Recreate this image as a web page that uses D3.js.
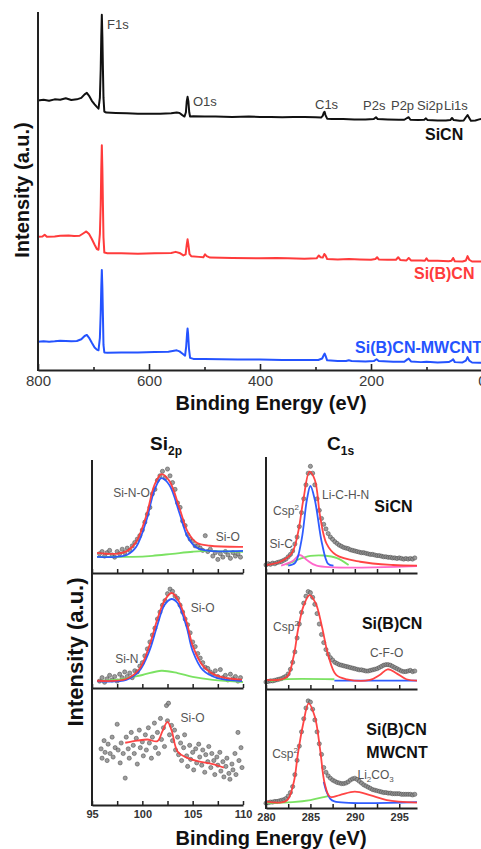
<!DOCTYPE html>
<html>
<head>
<meta charset="utf-8">
<script src="https://cdn.jsdelivr.net/npm/d3@7"></script>
<style>
body { margin: 0; background: #fff; }
svg { display: block; font-family: Arial, "Liberation Sans", sans-serif; }
</style>
</head>
<body>
<svg id="viz" width="481" height="849"></svg>
<script>
// survey spectra, [binding energy, intensity]
var surveySiCN = [[800,75.3],[790,75.5],[780,75.2],[770,75.6],[760,75.5],[750,75.9],[740,75.4],[730,75.6],[722,76.0],[716,77.0],[712,77.4],[708,76.6],[703,75.2],[698,74.2],[694,73.5],[691,73.0],[688.5,76],[687,84],[686,93],[685,99.2],[684,93],[683,84],[682,76],[680.5,72.2],[677,71.9],[660,71.8],[640,71.7],[620,71.6],[600,71.6],[580,71.6],[560,71.7],[550,71.9],[545,71.8],[540,71.2],[536,70.8],[533.5,72],[532,75],[530.5,76.3],[529,75],[527.5,72],[526,70.8],[520,70.9],[500,70.8],[480,70.8],[450,70.7],[420,70.8],[400,70.7],[380,70.7],[360,70.6],[340,70.7],[320,70.7],[300,70.6],[290,70.5],[287,71],[285,71.9],[283.5,72.1],[282,71.2],[279,70.2],[270,70.1],[250,70.1],[230,70.0],[210,70.0],[195,70.1],[191,70.6],[188,70.1],[170,70.0],[150,69.9],[140,69.9],[135,70.4],[132,70.6],[129,69.9],[115,69.8],[104,69.9],[101,70.3],[98,69.8],[80,69.7],[65,69.7],[57,69.8],[54,70.4],[51,69.8],[40,69.6],[33,69.7],[29,70.6],[26,71.2],[23,70.4],[20,69.6],[12,69.7],[5,70.0],[0,70.2]];
var surveySiBCN = [[800,37.2],[792,37.3],[788,37.8],[784,37.2],[770,37.3],[760,37.5],[745,37.6],[735,37.4],[725,37.5],[718,38.2],[713,38.7],[708,38.0],[703,36.6],[698,35.0],[694,33.8],[691,33.6],[688.5,38],[687,46],[686,56],[685,62.8],[684,56],[683,46],[682,37],[680.5,32.8],[675,32.6],[650,32.6],[620,32.5],[590,32.6],[560,32.7],[552,33.0],[545,32.7],[538,32.0],[534,32.3],[532,35],[530.5,36.5],[529,35],[527,32.4],[524,31.8],[510,31.6],[502,31.5],[499,32.3],[496,31.8],[490,31.4],[450,31.3],[400,31.2],[370,31.3],[350,31.2],[320,31.1],[298,31.2],[294,32.0],[291,31.5],[287,31.4],[284,32.4],[282,32.0],[279,31.0],[260,30.9],[240,31.0],[220,30.9],[200,30.8],[192,31.0],[189,31.5],[186,30.9],[170,30.8],[155,30.8],[151,31.5],[147,30.7],[136,30.6],[132,31.3],[128,30.6],[110,30.6],[103,30.5],[100,31.2],[97,30.5],[80,30.5],[60,30.4],[55,30.5],[52,31.3],[49,30.4],[35,30.3],[29,30.6],[26,31.8],[23,30.8],[18,30.3],[5,30.3],[0,30.3]];
var surveyMWCNT = [[800,7.9],[790,8.0],[780,7.9],[770,8.0],[760,8.2],[750,8.1],[740,8.0],[730,8.1],[722,8.6],[716,9.5],[712,9.8],[708,9.0],[703,7.6],[698,6.3],[694,5.7],[691,5.5],[688.5,9],[687,16],[686,23],[685,27.9],[684,23],[683,15],[682,7],[680.5,4.9],[675,4.8],[650,4.9],[620,4.9],[590,5.0],[565,5.1],[555,5.4],[550,5.5],[545,5.2],[540,4.6],[535,4.0],[533,6.5],[531.5,10],[530.5,11.6],[529.5,10],[528,6],[526,3.4],[520,3.1],[500,3.1],[470,3.0],[440,2.9],[400,2.9],[360,2.8],[320,2.8],[295,2.8],[288,3.2],[285,4.2],[283.5,4.6],[282,4.0],[279,2.7],[260,2.5],[245,2.5],[240,2.7],[235,2.5],[210,2.4],[195,2.5],[190,3.0],[186,2.5],[160,2.3],[140,2.3],[135,2.9],[132,3.2],[128,2.4],[110,2.2],[100,2.3],[80,2.1],[60,2.2],[55,2.6],[52,3.0],[49,2.2],[35,2.1],[29,2.6],[26,3.6],[23,2.6],[18,2.1],[5,2.0],[0,2.0]];
var surveyTicks = [800, 600, 400, 200, 0];

// Si 2p, measured points on a 0.25 eV grid from 95.75 eV
var si2pSiCNPts = [17,19,15,18,20,16,14,19,17,21,18,22,20,24,27,30,33,38,45,52,58,70,74,82,86,90,84,92,86,80,74,62,58,46,42,34,30,28,24,24,22,20,33,19,21,15,18,12,17,14,19,16,13,18,15,17,14];
var si2pSiBCNPts = [6,9,5,8,11,7,10,6,12,9,14,10,13,9,15,14,19,22,28,34,40,46,52,60,66,72,76,82,86,84,80,78,72,66,60,55,48,40,36,30,26,22,18,17,14,12,15,10,16,9,11,7,12,8,10,6,9];
var si2pMWCNTPts = [[95.9,48],[96.0,40],[96.2,55],[96.3,45],[96.5,38],[96.6,52],[96.8,44],[97.0,58],[97.1,41],[97.3,49],[97.5,69],[97.6,47],[97.8,36],[97.9,53],[98.1,44],[98.3,23],[98.4,58],[98.6,48],[98.7,40],[98.9,62],[99.1,51],[99.2,44],[99.4,57],[99.5,35],[99.7,64],[99.8,49],[100.0,54],[100.1,42],[100.3,60],[100.4,47],[100.6,66],[100.7,53],[100.9,40],[101.0,58],[101.2,70],[101.3,49],[101.5,62],[101.6,44],[101.8,74],[101.9,56],[102.1,66],[102.2,50],[102.4,85],[102.5,72],[102.6,87],[102.7,60],[102.9,68],[103.0,55],[103.2,64],[103.3,47],[103.5,58],[103.6,43],[103.8,53],[103.9,38],[104.1,49],[104.2,60],[104.4,42],[104.5,33],[104.7,51],[104.8,39],[105.0,45],[105.1,30],[105.3,48],[105.4,36],[105.6,52],[105.7,41],[105.9,34],[106.0,47],[106.2,28],[106.3,43],[106.5,37],[106.6,50],[106.8,32],[106.9,44],[107.1,38],[107.2,26],[107.4,41],[107.5,34],[107.7,45],[107.8,29],[108.0,37],[108.1,24],[108.3,33],[108.4,40],[108.6,27],[108.7,22],[108.9,35],[109.0,30],[109.2,44],[109.3,26],[109.5,62],[109.6,38],[109.8,49],[109.9,32]];

// Si 2p fitted curves
var si2pSiCNEnv = [[95.5,17.9],[97.4,17],[98.5,19.6],[99.4,27.7],[100.4,50.9],[101.2,77.7],[101.9,87.5],[102.7,81.3],[103.7,57.1],[104.5,36.6],[105.4,26.8],[106.7,24.1],[110,23.2]];
var si2pSiCNSiNO = [[95.5,14.3],[97.4,14.3],[98.5,16.1],[99.4,23.2],[100.4,46.4],[101.2,73.2],[101.9,83.9],[102.7,77.7],[103.7,52.7],[104.5,32.1],[105.4,22.3],[106.7,19.6],[110,19.6]];
var si2pSiCNSiO = [[95.5,14.3],[99,14.3],[101,15.2],[103,17],[105,18.8],[106.5,19.6],[108,19.2],[110,18.8]];
var si2pSiBCNEnv = [[95.5,6.3],[98.4,7.8],[99.7,16.5],[100.7,36.8],[101.5,60],[102.2,75.9],[102.9,82.6],[103.5,77.4],[104.4,57.4],[105,36.8],[106,19.4],[107.4,10.7],[109.9,7.2]];
var si2pSiBCNSiO = [[95.5,6.1],[98.4,7],[99.7,14.8],[100.7,32.2],[101.5,54.8],[102.2,72.2],[102.9,77.4],[103.5,73.9],[104.4,53],[105,32.2],[106,15.7],[107.4,8.7],[109.9,6.1]];
var si2pSiBCNSiN = [[95.5,6.1],[98,7.8],[100,11.3],[101.9,15],[103.5,13],[105,9.6],[107,7],[110,5.2]];
var si2pMWCNTEnv = [[98.3,53.2],[99.5,55],[100.5,56],[101.5,54.6],[102,63.2],[102.5,71],[102.9,64],[103.5,45.7],[104.4,40.5],[105.5,37.5],[107,35],[108.1,32]];

// C 1s, measured points on a 0.25 eV grid from 280 eV
var c1sSiCNPts = [7,8,7.5,8.5,8,9,9.5,10,11,12,14,16,19,25,31,40,52,64,76,86,92,86,76,64,54,47,42,38,34,31,29,27,25.5,24,23,22,21.5,21,20,19.5,19,18.5,18,17.5,17.5,17,16.5,16,16,15.5,15,15,14.5,14,14,13.5,13.5,13,13,12.5,13,12.5,12,12.5,12,12.5,12,13];
var c1sSiBCNPts = [6,6.5,7,7,7.5,8,8.5,9,10,11,13,17,23,32,44,56,66,74,80,84,83,79,73,65,56,47,40,34,30,27,25,23,22,21,20.5,20,19.5,19,18.5,18,17.5,17,16.5,16.5,16,15.5,15.5,16,16.5,17,17.5,18.5,19.5,20.5,21,21,20.5,19.5,18.5,17.5,16.5,15.5,15,15,15.5,16,15,15.5];
var c1sMWCNTPts = [4,4.5,5,5,5.5,5.5,6,6.5,7,8,10,13,18,28,40,52,64,75,84,90,89,83,74,64,54,45,34,30,27,25,23.5,22.5,21.5,21,20.5,20.5,21,22,23.5,24.5,25,24,22.5,21,19.5,18.5,17.5,16.5,15.5,15,14.5,14,13.5,13,13,12.5,12.5,12,12,12,12,11.5,11.5,11.5,11.5,11.5,11,11.5];

// C 1s fitted curves
var c1sSiCNEnv = [[280,6.9],[281.6,9.7],[282.9,17],[283.6,34.5],[284.2,62.9],[284.9,87.3],[285.5,80.2],[286.1,48.5],[286.8,25.6],[287.9,15.5],[290.6,9.7],[294.3,6.9],[297,6.3]];
var c1sSiCNLiCHN = [[282.5,6.3],[283.3,9],[284,28.4],[284.6,62.9],[285,75],[285.5,62.9],[286.3,25.6],[287,7.8],[287.6,6.3]];
var c1sSiCNSiC = [[281.7,6.3],[283,10.3],[283.8,15.5],[284.6,11.2],[285.7,6.3],[297,6.0]];
var c1sSiCNCsp2 = [[282.3,6.9],[283.5,11.2],[285,14.7],[286.5,15.1],[288,12.9],[289.3,6.9]];
var c1sSiBCNEnv = [[280,7.8],[282.3,10.1],[283.1,27.8],[283.6,50.9],[284.2,71],[284.9,81],[285.6,73.9],[286.3,53.7],[287,29.3],[287.9,12.1],[289.1,8.4],[291.7,7.8],[292.8,12.1],[293.7,17],[294.7,13.5],[295.8,8.4],[297,7.2]];
var c1sSiBCNBase = [[280.5,6.9],[282,8.4],[287.7,8.4]];
var c1sSiBCNCFO = [[287.7,7.2],[297,7.2]];
var c1sMWCNTEnv = [[280,5.3],[282.3,6.1],[283.1,20.8],[283.6,46],[284.2,71.2],[284.8,88],[285.5,76.7],[286.1,48.7],[286.6,20.8],[287.2,9.5],[288.3,10.9],[290,13.7],[291.7,10.9],[293.6,6.7],[297,4.5]];
var c1sMWCNTLi = [[286.5,22],[286.8,14],[287.2,8],[287.7,5.5],[297,5]];
var c1sMWCNTBase = [[280.2,4.2],[283,5],[285,6.7],[286.5,9.2],[287,10]];

var siTicks = [95, 100, 105, 110];
var cTicks = [280, 285, 290, 295];

var RED = '#ff3b3b', BLUE = '#2453ff', GREEN = '#74e05a', PINK = '#ff5fc8';

var svg = d3.select('svg#viz');

function grid(x0, dx, vals) {
    return vals.map(function(v, i) { return [x0 + i * dx, v]; });
}

// ---------- survey ----------
var xTop = d3.scaleLinear().domain([800, 0]).range([38, 482]);
var yTop = d3.scaleLinear().domain([0, 100]).range([370, 12]);
var surveyLine = d3.line().x(function(d) { return xTop(d[0]); }).y(function(d) { return yTop(d[1]); });

[[surveySiCN, '#111'], [surveySiBCN, RED], [surveyMWCNT, BLUE]].forEach(function(s) {
    svg.append('path').datum(s[0])
        .attr('d', surveyLine)
        .attr('fill', 'none')
        .attr('stroke', s[1])
        .attr('stroke-width', 2)
        .attr('stroke-linejoin', 'round');
});

var topAxis = svg.append('g').attr('transform', 'translate(0,370)')
    .call(d3.axisBottom(xTop).tickValues(d3.range(0, 801, 100)).tickSizeInner(-6).tickSizeOuter(0).tickPadding(5)
        .tickFormat(function(d) { return surveyTicks.indexOf(d) >= 0 ? d : ''; }));
topAxis.select('.domain').attr('stroke', '#222').attr('stroke-width', 2);
topAxis.selectAll('.tick line').attr('stroke', '#222').attr('stroke-width', 1.6)
    .attr('y2', function(d) { return surveyTicks.indexOf(d) >= 0 ? -6 : -3; });
topAxis.selectAll('.tick text').attr('font-size', 15).attr('fill', '#3a3a3a')
    .attr('font-family', 'Arial, "Liberation Sans", sans-serif');
svg.append('line').attr('x1', 38).attr('x2', 38).attr('y1', 12).attr('y2', 371)
    .attr('stroke', '#222').attr('stroke-width', 2);

var peakLabels = [['F1s', 675.7, 95.3], ['O1s', 520.7, 73.7], ['C1s', 300.9, 72.9], ['P2s', 214.4, 72.6],
    ['P2p', 164, 72.6], ['Si2p', 117.1, 72.6], ['Li1s', 68.5, 72.6]];
svg.selectAll('text.peak').data(peakLabels).enter().append('text')
    .attr('class', 'peak')
    .attr('x', function(d) { return xTop(d[1]); })
    .attr('y', function(d) { return yTop(d[2]); })
    .attr('font-size', 13).attr('fill', '#444')
    .text(function(d) { return d[0]; });

[['SiCN', 102.7, 64.2, '#111'], ['Si(B)CN', 122.5, 25.4, RED], ['Si(B)CN-MWCNT', 228.8, 4.7, BLUE]].forEach(function(d) {
    svg.append('text').attr('x', xTop(d[1])).attr('y', yTop(d[2]))
        .attr('font-size', 16).attr('font-weight', 'bold').attr('fill', d[3]).text(d[0]);
});

svg.append('text').attr('x', 271).attr('y', 410).attr('text-anchor', 'middle')
    .attr('font-size', 20).attr('font-weight', 'bold').attr('fill', '#111').text('Binding Energy (eV)');
svg.append('text').attr('transform', 'translate(29,190) rotate(-90)').attr('text-anchor', 'middle')
    .attr('font-size', 20).attr('font-weight', 'bold').attr('fill', '#111').text('Intensity (a.u.)');

// ---------- core level panels ----------
var xSi = d3.scaleLinear().domain([95, 110]).range([92, 243]);
var xC = d3.scaleLinear().domain([280, 297]).range([266, 417]);

function panel(x, rng, pts, fits, labels, tickLabels) {
    var y = d3.scaleLinear().domain([0, 100]).range(rng);
    var g = svg.append('g');
    g.selectAll('circle').data(pts).enter().append('circle')
        .attr('cx', function(d) { return x(d[0]); })
        .attr('cy', function(d) { return y(d[1]); })
        .attr('r', 2.1)
        .attr('fill', '#8c8c8c')
        .attr('fill-opacity', 0.85)
        .attr('stroke', '#444')
        .attr('stroke-width', 0.5);
    var line = d3.line().curve(d3.curveCatmullRom.alpha(0.5))
        .x(function(d) { return x(d[0]); }).y(function(d) { return y(d[1]); });
    fits.forEach(function(f) {
        g.append('path').datum(f[0]).attr('d', line)
            .attr('fill', 'none').attr('stroke', f[1]).attr('stroke-width', 1.8).attr('stroke-opacity', 0.95);
    });
    labels.forEach(function(l) {
        var t = g.append('text').attr('x', x(l[1])).attr('y', y(l[2]))
            .attr('font-size', l[3] ? 16 : 12).attr('font-weight', l[3] ? 'bold' : 'normal')
            .attr('fill', l[3] ? '#111' : '#555');
        l[0].forEach(function(p) {
            var ts = t.append('tspan').text(p[0]);
            if (p[1] === 'sup') ts.attr('font-size', 8).attr('dy', -5);
            if (p[1] === 'sub') ts.attr('font-size', 8).attr('dy', 3);
            if (p[1] === 'base') ts.attr('dy', p[2]);
        });
    });
    var ticks = d3.range(x.domain()[0], x.domain()[1] + 0.01, 2.5);
    var ax = g.append('g').attr('transform', 'translate(0,' + rng[0] + ')')
        .call(d3.axisBottom(x).tickValues(ticks).tickSizeInner(-4).tickSizeOuter(0).tickPadding(5)
            .tickFormat(function(d) { return tickLabels && tickLabels.indexOf(d) >= 0 ? d : ''; }));
    ax.select('.domain').attr('stroke', '#222').attr('stroke-width', 2);
    ax.selectAll('.tick line').attr('stroke', '#222').attr('stroke-width', 1.5);
    ax.selectAll('.tick text').attr('font-size', 11).attr('font-weight', 'bold').attr('fill', '#333')
        .attr('font-family', 'Arial, "Liberation Sans", sans-serif');
}

var csp = [['Csp'], ['2', 'sup']];

panel(xSi, [573, 460], grid(95.75, 0.25, si2pSiCNPts),
    [[si2pSiCNSiO, GREEN], [si2pSiCNSiNO, BLUE], [si2pSiCNEnv, RED]],
    [[[['Si-N-O']], 97.1, 67], [[['Si-O']], 107.3, 28]]);
panel(xSi, [688, 573], grid(95.75, 0.25, si2pSiBCNPts),
    [[si2pSiBCNSiN, GREEN], [si2pSiBCNSiO, BLUE], [si2pSiBCNEnv, RED]],
    [[[['Si-O']], 104.8, 66], [[['Si-N']], 97.3, 22]]);
panel(xSi, [805, 688], si2pMWCNTPts,
    [[si2pMWCNTEnv, RED]],
    [[[['Si-O']], 103.8, 71]], siTicks);

panel(xC, [573, 457], grid(280, 0.25, c1sSiCNPts),
    [[c1sSiCNCsp2, GREEN], [c1sSiCNSiC, PINK], [c1sSiCNLiCHN, BLUE], [c1sSiCNEnv, RED]],
    [[csp, 280.8, 50], [[['Li-C-H-N']], 286.3, 64], [[['Si-C']], 280.4, 21.5], [[['SiCN']], 292.2, 52.6, true]]);
panel(xC, [689, 573], grid(280, 0.25, c1sSiBCNPts),
    [[c1sSiBCNBase, GREEN], [c1sSiBCNCFO, BLUE], [c1sSiBCNEnv, RED]],
    [[csp, 280.8, 50], [[['C-F-O']], 291.7, 27.6], [[['Si(B)CN']], 290.8, 51.7, true]]);
panel(xC, [808, 689], grid(280, 0.25, c1sMWCNTPts),
    [[c1sMWCNTBase, GREEN], [c1sMWCNTLi, BLUE], [c1sMWCNTEnv, RED]],
    [[csp, 280.7, 42], [[['Li'], ['2', 'sub'], ['CO', 'base', -3], ['3', 'sub']], 290.3, 24.4],
     [[['Si(B)CN']], 291.3, 61.3, true], [[['MWCNT']], 291.3, 42, true]], cTicks);

// column spines
svg.append('line').attr('x1', 92).attr('x2', 92).attr('y1', 460).attr('y2', 806)
    .attr('stroke', '#222').attr('stroke-width', 2);
svg.append('line').attr('x1', 266).attr('x2', 266).attr('y1', 457).attr('y2', 809)
    .attr('stroke', '#222').attr('stroke-width', 2);

// titles
var t1 = svg.append('text').attr('x', 150).attr('y', 450).attr('font-size', 19).attr('font-weight', 'bold').attr('fill', '#111');
t1.append('tspan').text('Si');
t1.append('tspan').attr('font-size', 12).attr('dy', 5).text('2p');
var t2 = svg.append('text').attr('x', 327).attr('y', 450).attr('font-size', 19).attr('font-weight', 'bold').attr('fill', '#111');
t2.append('tspan').text('C');
t2.append('tspan').attr('font-size', 12).attr('dy', 5).text('1s');

svg.append('text').attr('x', 271).attr('y', 845).attr('text-anchor', 'middle')
    .attr('font-size', 20).attr('font-weight', 'bold').attr('fill', '#111').text('Binding Energy (eV)');
svg.append('text').attr('transform', 'translate(83,652) rotate(-90)').attr('text-anchor', 'middle')
    .attr('font-size', 22).attr('font-weight', 'bold').attr('fill', '#111').text('Intensity (a.u.)');
</script>
</body>
</html>
